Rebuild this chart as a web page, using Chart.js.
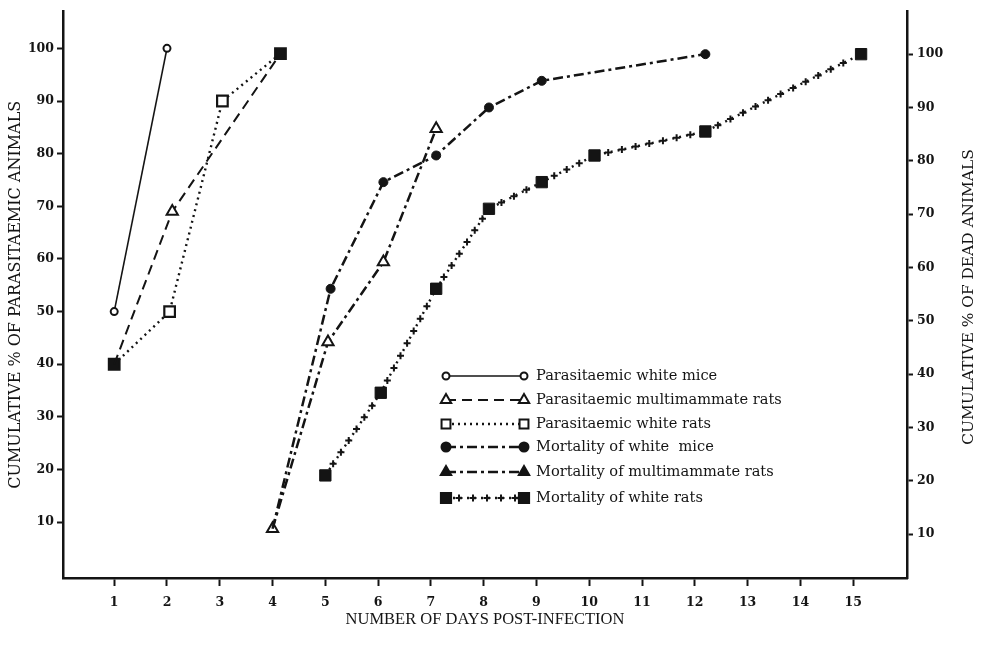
<!DOCTYPE html>
<html>
<head>
<meta charset="utf-8">
<script src="https://cdn.jsdelivr.net/npm/chart.js@4.4.1/dist/chart.umd.min.js"></script>
<style>
html,body{margin:0;padding:0;background:#ffffff;}
canvas{display:block;}
</style>
</head>
<body>
<canvas id="c" width="981" height="658"></canvas>
<script>
// ---------- data ----------
const dayTicks = [1,2,3,4,5,6,7,8,9,10,11,12,13,14,15];
const leftTicks = [10,20,30,40,50,60,70,80,90,100];
const rightTicks = [10,20,30,40,50,60,70,80,90,100];

const seriesNames = [
  'Parasitaemic white mice',
  'Parasitaemic multimammate rats',
  'Parasitaemic white rats',
  'Mortality of white  mice',
  'Mortality of multimammate rats',
  'Mortality of white rats'
];

// parasitaemia (left axis)
const paraMiceDays = [1, 2];
const paraMiceValues = [50, 100];
const paraMultiDays = [1, 2.1, 4.15];
const paraMultiValues = [40, 69, 99];
const paraRatsDays = [1, 2.05, 3.05, 4.15];
const paraRatsValues = [40, 50, 90, 99];

// mortality (right axis)
const mortMiceDays = [4, 5.1, 6.1, 7.1, 8.1, 9.1, 12.2];
const mortMiceValues = [11, 56, 76, 81, 90, 95, 100];
const mortMultiDays = [4, 5.05, 6.1, 7.1];
const mortMultiValues = [11, 46, 61, 86];
const mortRatsDays = [5, 6.05, 7.1, 8.1, 9.1, 10.1, 12.2, 15.15];
const mortRatsValues = [21, 36.5, 56, 71, 76, 81, 85.5, 100];

// ---------- helpers ----------
const INK = '#141414';
function pts(days, vals){ return days.map((d,i)=>({x:d, y:vals[i]})); }

const styles = [
  {dash:[], width:1.6, marker:'circle', fill:false, r:3.5},
  {dash:[10,6], width:2, marker:'triangle', fill:false, r:6},
  {dash:[2,4], width:2.4, marker:'rect', fill:false, r:7},
  {dash:[10,4,3,4], width:2.5, marker:'circle', fill:true, r:4.5},
  {dash:[10,4,3,4], width:2.5, marker:'triangle', fill:true, r:6.5},
  {dash:[2,5], width:2.4, marker:'rect', fill:true, r:8}
];

const datasets = [
  {label:seriesNames[0], data:pts(paraMiceDays, paraMiceValues), yAxisID:'yL',
   borderColor:INK, borderWidth:1.6, borderDash:[], pointStyle:'circle', pointRadius:3.5,
   pointBackgroundColor:'#fff', pointBorderColor:INK, pointBorderWidth:2},
  {label:seriesNames[1], data:pts(paraMultiDays, paraMultiValues), yAxisID:'yL',
   borderColor:INK, borderWidth:2, borderDash:[10,6], pointStyle:'triangle', pointRadius:[0,6.5,0],
   pointBackgroundColor:'#fff', pointBorderColor:INK, pointBorderWidth:2},
  {label:seriesNames[2], data:pts(paraRatsDays, paraRatsValues), yAxisID:'yL',
   borderColor:INK, borderWidth:2.4, borderDash:[2,4], pointStyle:'rect', pointRadius:[7.5,7.5,7.5,7.5],
   pointBackgroundColor:[INK,'#fff','#fff',INK], pointBorderColor:INK, pointBorderWidth:2.2},
  {label:seriesNames[3], data:pts(mortMiceDays, mortMiceValues), yAxisID:'yR',
   borderColor:INK, borderWidth:2.5, borderDash:[10,4,3,4], pointStyle:'circle', pointRadius:[0,4.5,4.5,4.5,4.5,4.5,4.5],
   pointBackgroundColor:INK, pointBorderColor:INK, pointBorderWidth:1},
  {label:seriesNames[4], data:pts(mortMultiDays, mortMultiValues), yAxisID:'yR',
   borderColor:INK, borderWidth:2.5, borderDash:[10,4,3,4], pointStyle:'triangle', pointRadius:6.5,
   pointBackgroundColor:'#fff', pointBorderColor:INK, pointBorderWidth:2},
  {label:seriesNames[5], data:pts(mortRatsDays, mortRatsValues), yAxisID:'yR',
   borderColor:INK, borderWidth:2.4, borderDash:[2,5], pointStyle:'rect', pointRadius:8,
   pointBackgroundColor:INK, pointBorderColor:INK, pointBorderWidth:1}
];
datasets.forEach(d=>{ d.tension = 0; d.fill = false; d.showLine = true; d.borderCapStyle='butt'; });

function drawMarker(ctx, type, fill, r, x, y){
  ctx.save();
  ctx.setLineDash([]);
  ctx.lineWidth = 2;
  ctx.strokeStyle = INK;
  ctx.fillStyle = fill ? INK : '#fff';
  ctx.beginPath();
  if (type === 'circle') {
    ctx.arc(x, y, r, 0, Math.PI*2);
  } else if (type === 'triangle') {
    ctx.moveTo(x, y - r);
    ctx.lineTo(x + r*0.866, y + r*0.5);
    ctx.lineTo(x - r*0.866, y + r*0.5);
    ctx.closePath();
  } else {
    const s = r*0.707;
    ctx.rect(x - s, y - s, 2*s, 2*s);
  }
  ctx.fill();
  ctx.stroke();
  ctx.restore();
}

function drawCross(ctx, x, y, s){
  ctx.beginPath();
  ctx.moveTo(x - s, y); ctx.lineTo(x + s, y);
  ctx.moveTo(x, y - s); ctx.lineTo(x, y + s);
  ctx.stroke();
}

const extras = {
  id:'extras',
  afterDatasetsDraw(chart){
    const ctx = chart.ctx;
    // crosses along the "white rats mortality" line
    const meta = chart.getDatasetMeta(5);
    const P = meta.data.map(p=>({x:p.x, y:p.y}));
    ctx.save();
    ctx.strokeStyle = INK; ctx.lineWidth = 2; ctx.setLineDash([]);
    for (let i=0;i<P.length-1;i++){
      const a=P[i], b=P[i+1];
      const L = Math.hypot(b.x-a.x, b.y-a.y);
      const ux=(b.x-a.x)/L, uy=(b.y-a.y)/L;
      for (let t=14; t<L-9; t+=14){
        drawCross(ctx, a.x+ux*t, a.y+uy*t, 3.5);
      }
    }
    ctx.restore();

    // legend
    const rowY = [376, 400, 424, 447, 472, 498];
    const x0 = 446, x1 = 524, tx = 536;
    ctx.save();
    ctx.font = '14.6px "DejaVu Serif"';
    ctx.textBaseline = 'middle';
    ctx.fillStyle = INK;
    styles.forEach((st,i)=>{
      const y = rowY[i];
      ctx.save();
      ctx.strokeStyle = INK;
      ctx.lineWidth = st.width;
      ctx.setLineDash(st.dash);
      ctx.beginPath(); ctx.moveTo(x0, y); ctx.lineTo(x1, y); ctx.stroke();
      ctx.restore();
      if (i === 5){
        ctx.save(); ctx.strokeStyle = INK; ctx.lineWidth = 2;
        for (let xx = x0+13; xx < x1-6; xx += 14) drawCross(ctx, xx, y, 3.5);
        ctx.restore();
      }
      const rr = st.marker==='rect' ? st.r*0.9 : (st.marker==='triangle' ? 6 : st.r);
      drawMarker(ctx, st.marker, st.fill, rr, x0, y);
      drawMarker(ctx, st.marker, st.fill, rr, x1, y);
      ctx.fillText(seriesNames[i], tx, y);
    });
    ctx.restore();

    // right axis title (reads bottom-to-top)
    ctx.save();
    ctx.translate(969, 297);
    ctx.rotate(-Math.PI/2);
    ctx.font = '15.4px "DejaVu Serif"';
    ctx.textAlign = 'center';
    ctx.textBaseline = 'middle';
    ctx.fillStyle = INK;
    ctx.fillText('CUMULATIVE % OF DEAD ANIMALS', 0, 0);
    ctx.restore();
  }
};

const tickFont = {family:'"DejaVu Serif"', size:12.5, weight:'bold'};

new Chart(document.getElementById('c'), {
  type:'scatter',
  data:{datasets},
  options:{
    responsive:false,
    animation:false,
    devicePixelRatio:1,
    layout:{padding:{top:10, left:0, right:0, bottom:0}},
    plugins:{legend:{display:false}, tooltip:{enabled:false}},
    scales:{
      x:{
        type:'linear', position:'bottom', min:0.03, max:16.02,
        afterFit:(s)=>{ s.height = 80; },
        afterBuildTicks:(s)=>{ s.ticks = dayTicks.map(v=>({value:v})); },
        grid:{drawOnChartArea:false, drawTicks:true, tickLength:8, tickWidth:2, tickColor:INK},
        border:{display:true, color:INK, width:2.5},
        ticks:{color:INK, font:tickFont, padding:9, maxRotation:0, autoSkip:false},
        title:{display:true, text:'NUMBER OF DAYS POST-INFECTION', color:INK,
               font:{family:'"Liberation Serif"', size:16.5}, padding:{top:0, bottom:28}}
      },
      yL:{
        type:'linear', position:'left', min:-0.6, max:107,
        afterFit:(s)=>{ s.width = 63; },
        afterBuildTicks:(s)=>{ s.ticks = leftTicks.map(v=>({value:v})); },
        grid:{drawOnChartArea:false, drawTicks:true, tickLength:6, tickWidth:2, tickColor:INK},
        border:{display:true, color:INK, width:2.5},
        ticks:{color:INK, font:tickFont, padding:3},
        title:{display:true, text:'CUMULATIVE % OF PARASITAEMIC ANIMALS', color:INK,
               font:{family:'"DejaVu Serif"', size:16}, padding:{top:6, bottom:0}}
      },
      yR:{
        type:'linear', position:'right', min:1.76, max:108,
        afterFit:(s)=>{ s.width = 74; },
        afterBuildTicks:(s)=>{ s.ticks = rightTicks.map(v=>({value:v})); },
        grid:{drawOnChartArea:false, drawTicks:true, tickLength:6, tickWidth:2, tickColor:INK},
        border:{display:true, color:INK, width:2.5},
        ticks:{color:INK, font:tickFont, padding:4},
        title:{display:false}
      }
    }
  },
  plugins:[extras]
});
</script>
</body>
</html>
